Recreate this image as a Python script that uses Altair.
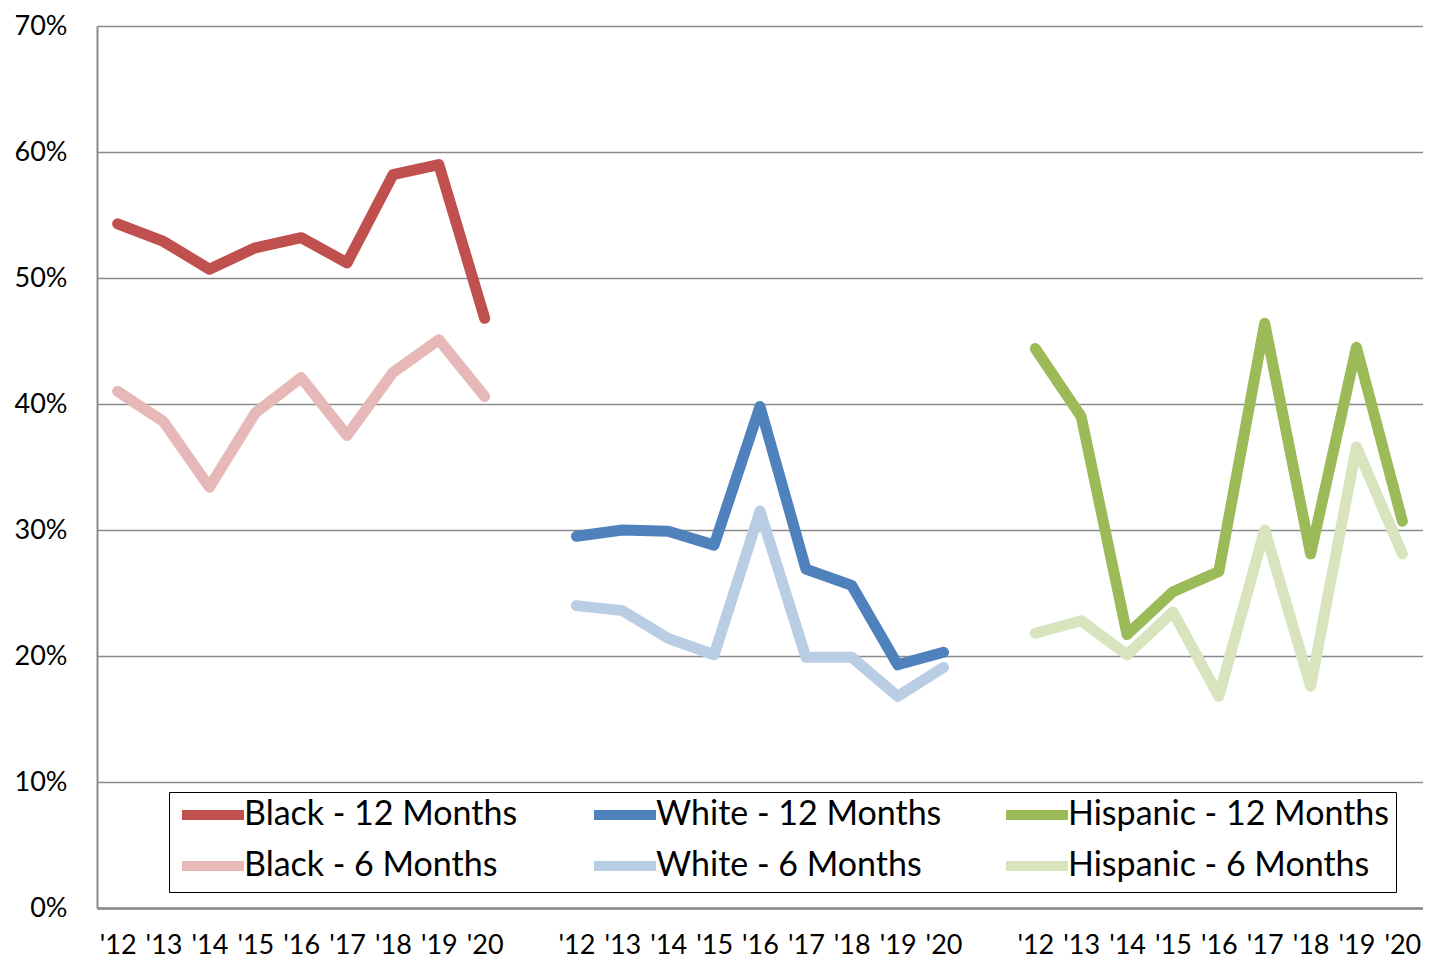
import altair as alt
import pandas as pd

years = ["'12", "'13", "'14", "'15", "'16", "'17", "'18", "'19", "'20"]
groups = ["Black", "White", "Hispanic"]

black_12 = [54.3, 52.9, 50.7, 52.4, 53.2, 51.2, 58.2, 59.0, 46.8]
black_6 = [41.0, 38.6, 33.4, 39.3, 42.1, 37.5, 42.5, 45.1, 40.6]
white_12 = [29.5, 30.0, 29.9, 28.8, 39.8, 26.9, 25.6, 19.3, 20.3]
white_6 = [24.0, 23.6, 21.4, 20.1, 31.5, 19.9, 19.9, 16.8, 19.1]
hisp_12 = [44.4, 39.0, 21.7, 25.1, 26.7, 46.4, 28.1, 44.5, 30.7]
hisp_6 = [21.8, 22.8, 20.1, 23.5, 16.8, 30.0, 17.6, 36.6, 28.1]

# column-major order so the 3-column legend reads row by row like the reference
series_order = ["Black - 12 Months", "Black - 6 Months",
                "White - 12 Months", "White - 6 Months",
                "Hispanic - 12 Months", "Hispanic - 6 Months"]
colors = ["#C0504D", "#E6B9B8", "#4F81BD", "#B9CDE5", "#9BBB59", "#D7E4BD"]

data = {
    "Black": (black_12, black_6),
    "White": (white_12, white_6),
    "Hispanic": (hisp_12, hisp_6),
}

rows = []
domain = []
for gi, g in enumerate(groups):
    v12, v6 = data[g]
    for i, yr in enumerate(years):
        key = f"{g}|{yr}"
        domain.append(key)
        rows.append({"x": key, "series": f"{g} - 12 Months", "value": v12[i] / 100})
        rows.append({"x": key, "series": f"{g} - 6 Months", "value": v6[i] / 100})
    if gi < len(groups) - 1:
        domain.append(f"gap{gi}|")

df = pd.DataFrame(rows)

FONT = "Lato"
GRID = "#8A8A8A"

chart = alt.Chart(df).mark_line(
    strokeWidth=11, strokeCap="round", strokeJoin="round"
).encode(
    x=alt.X("x:N", scale=alt.Scale(type="point", domain=domain, padding=0.45),
            sort=domain,
            axis=alt.Axis(title=None, labelExpr="split(datum.value, '|')[1]",
                          labelAngle=0, ticks=False, labelPadding=24,
                          labelFontSize=27, labelFont=FONT, labelColor="black",
                          domainColor=GRID, domainWidth=2.5, grid=False)),
    y=alt.Y("value:Q", scale=alt.Scale(domain=[0, 0.7], nice=False),
            axis=alt.Axis(title=None, format=".0%", values=[0, 0.1, 0.2, 0.3, 0.4, 0.5, 0.6, 0.7],
                          ticks=False, labelPadding=30, labelFontSize=27, labelFont=FONT,
                          labelColor="black", domainColor=GRID, domainWidth=2,
                          grid=True, gridColor=GRID, gridWidth=1.5)),
    color=alt.Color("series:N", sort=series_order,
                    scale=alt.Scale(domain=series_order, range=colors),
                    legend=alt.Legend(title=None, orient="none", legendX=72, legendY=766,
                                      columns=3, gridAlign="all", columnPadding=8,
                                      rowPadding=11, padding=6,
                                      strokeColor="black", fillColor="white",
                                      symbolType="M-3,0H3", symbolStrokeWidth=10,
                                      symbolSize=427, symbolOffset=21, labelOffset=14,
                                      labelFontSize=34, labelFont=FONT, labelColor="black",
                                      labelLimit=0)),
).properties(
    width=1326, height=882,
    autosize=alt.AutoSizeParams(type="none"),
    padding={"left": 89, "top": 18, "right": 0, "bottom": 50},
).configure_view(stroke=None).configure(font=FONT)

chart.save("out.html", embed_options={"renderer": "svg", "actions": False})
